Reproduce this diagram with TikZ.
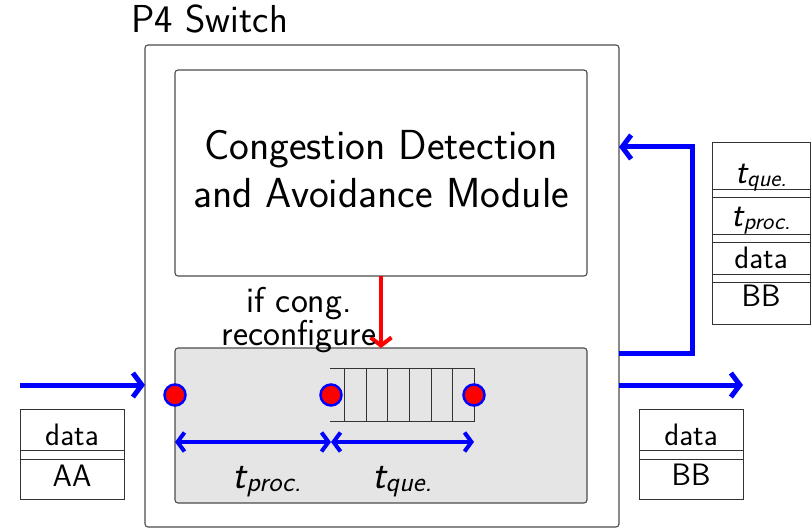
\documentclass[tikz,border=0pt]{standalone}
\usetikzlibrary{arrows.meta,calc}

\definecolor{edgegray}{gray}{0.3}
\definecolor{panelgray}{gray}{0.9}

% slanted sans "t" with a lowered label, sized by the two arguments
\newcommand\tdelay[3]{{\fontsize{#2}{#2}\selectfont\slshape t}\raisebox{-0.3em}{\fontsize{#3}{#3}\selectfont\slshape #1}}

\begin{document}
\begin{tikzpicture}[x=1pt,y=-1pt,
  font=\sffamily,
  frame/.style={draw=edgegray, line width=1.1pt, rounded corners=3pt, inner sep=0pt, outer sep=0pt},
  pkt/.style={draw=black!80, line width=1pt, inner sep=0pt, outer sep=0pt},
  sep/.style={draw=black!80, line width=1pt},
  flow/.style={draw=blue, line width=5pt, -{Straight Barb[length=9pt,width=24pt]}},
  span/.style={draw=blue, line width=4pt, {Straight Barb[length=7pt,width=19pt]}-{Straight Barb[length=7pt,width=19pt]}},
  signal/.style={draw=red, line width=4pt, -{Straight Barb[length=8pt,width=21pt]}},
  port/.style={circle, fill=red, draw=blue, line width=2.5pt, minimum size=21pt, inner sep=0pt},
  slot/.style={draw=black!80, line width=1pt},
  big/.style={font=\sffamily\fontsize{42}{48}\selectfont},
  mid/.style={font=\sffamily\fontsize{36}{29}\selectfont},
  small/.style={font=\sffamily\fontsize{31}{31}\selectfont}]

\useasboundingbox (0,0) rectangle (811,529);

% switch outline and its two stages
\node[frame, minimum width=474pt, minimum height=482pt] (switch) at (382,286) {};
\node[anchor=base west, font=\sffamily\fontsize{39}{39}\selectfont] (title) at (128,33) {P4 Switch};
\node[frame, minimum width=412pt, minimum height=206pt] (module) at (381,173) {};
\node[big, align=center] (modtext) at (381,169) {Congestion Detection\\and Avoidance Module};
\node[frame, fill=panelgray, minimum width=412pt, minimum height=155pt] (pipeline) at (381,425.5) {};

% control signal from the module
\draw[signal] (module.south) -- (pipeline.north);
\node[mid, align=center] (reconf) at (299,320) {if cong.\\reconfigure};

% queue slots
\draw[slot] (330,368) -- (474.3,368) -- (474.3,421) -- (330,421);
\foreach \x in {344.3,366,387.7,409.3,431,452.7}
  \draw[slot] (\x,368) -- (\x,421);

% ports
\node[port] (p1) at (175,395) {};
\node[port] (p2) at (331,395) {};
\node[port] (p3) at (474,395) {};

% delay spans
\draw[span] ($(p1)+(0,47)$) -- ($(p2)+(0,47)$);
\draw[span] ($(p2)+(0,47)$) -- ($(p3)+(0,47)$);
\node[anchor=base] (lproc) at (267,488) {\tdelay{proc.}{40}{28}};
\node[anchor=base] (lque) at (402,488) {\tdelay{que.}{40}{28}};

% packet flow
\coordinate (src) at (20,385);
\coordinate (sink) at (743,385);
\draw[flow] (src) -- (src -| switch.west);
\draw[flow] (sink -| switch.east) -- (sink);
\coordinate (fbout) at (692,353);
\coordinate (fbin) at (692,147);
\draw[flow] (fbout -| switch.east) -- (fbout) -- (fbin) -- (fbin -| switch.east);

% incoming packet
\node[pkt, minimum width=104pt, minimum height=90pt] (inpkt) at (72,454) {};
\draw[sep] ($(inpkt.north west)+(0,41)$) -- ($(inpkt.north east)+(0,41)$);
\draw[sep] ($(inpkt.north west)+(0,50)$) -- ($(inpkt.north east)+(0,50)$);
\node[small, anchor=base] (indata) at (72,445) {data};
\node[small, anchor=base] (inaddr) at (72,486) {AA};

% outgoing packet
\node[pkt, minimum width=104pt, minimum height=90pt] (outpkt) at (691,454) {};
\draw[sep] ($(outpkt.north west)+(0,41)$) -- ($(outpkt.north east)+(0,41)$);
\draw[sep] ($(outpkt.north west)+(0,50)$) -- ($(outpkt.north east)+(0,50)$);
\node[small, anchor=base] (outdata) at (691,445) {data};
\node[small, anchor=base] (outaddr) at (691,485) {BB};

% packet carrying the measured delays
\node[pkt, minimum width=98pt, minimum height=181pt] (tagpkt) at (761,233.5) {};
\foreach \d in {47,55,92,100,132,140}
  \draw[sep] ($(tagpkt.north west)+(0,\d)$) -- ($(tagpkt.north east)+(0,\d)$);
\node[anchor=base] (tagque) at (761,184) {\tdelay{que.}{35}{24}};
\node[anchor=base] (tagproc) at (761,227) {\tdelay{proc.}{35}{24}};
\node[small, anchor=base] (tagdata) at (761,269) {data};
\node[small, anchor=base] (tagaddr) at (761,306) {BB};

\end{tikzpicture}
\end{document}
